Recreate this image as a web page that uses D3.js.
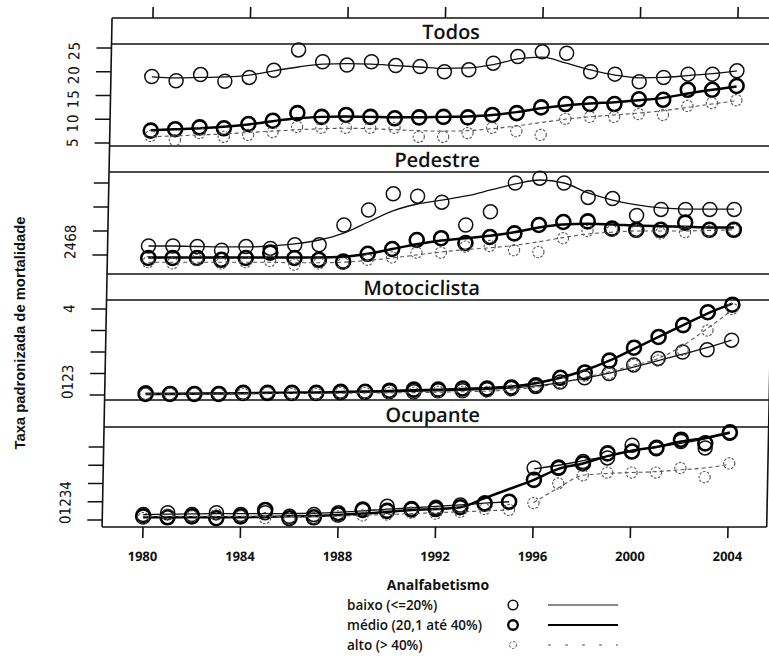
<!DOCTYPE html>
<html>
<head>
<meta charset="utf-8">
<script src="https://cdn.jsdelivr.net/npm/d3@7"></script>
<style>
  body { margin: 0; background: #fff; }
  svg { display: block; }
</style>
</head>
<body>
<svg id="chart" width="769" height="660"></svg>
<script>
// ---- data -------------------------------------------------------------
const years = [1980,1981,1982,1983,1984,1985,1986,1987,1988,1989,1990,1991,1992,
               1993,1994,1995,1996,1997,1998,1999,2000,2001,2002,2003,2004];
const xTickYears = [1980,1984,1988,1992,1996,2000,2004];

const groupNames = ["baixo (<=20%)", "médio (20,1 até 40%)", "alto (> 40%)"];
const legendTitle = "Analfabetismo";
const yTitle = "Taxa padronizada de mortalidade";

// Todos
const todosTicks = [5, 10, 15, 20, 25];
const todosTickLabels = ["5 10 15 20 25"];
const todosBaixo    = [19.0,18.1,19.4,18.0,18.8,20.3,24.6,22.1,21.4,22.1,21.3,21.1,20.0,20.4,21.8,23.2,24.2,23.9,20.0,19.5,17.9,18.8,19.5,19.5,20.2];
const todosBaixoFit = [18.9,18.7,18.8,18.9,19.3,20.2,21.0,21.6,21.7,21.6,21.3,21.0,20.7,20.8,21.5,22.7,23.1,21.8,20.4,19.3,18.7,18.8,19.2,19.6,20.2];
const todosMedio    = [7.6,7.9,8.3,8.1,9.0,9.7,11.3,10.5,10.9,10.5,10.2,10.4,10.5,10.4,10.9,11.3,12.5,13.2,13.2,13.2,14.2,14.1,16.2,16.2,17.0];
const todosMedioFit = [7.7,7.9,8.1,8.4,8.9,9.6,10.2,10.5,10.6,10.5,10.4,10.4,10.5,10.6,10.9,11.5,12.3,12.9,13.3,13.6,14.0,14.5,15.4,16.2,16.9];
const todosAlto     = [6.5,5.6,7.1,6.3,6.7,7.3,8.4,8.2,8.2,8.2,8.2,6.3,6.3,7.1,8.2,7.5,6.7,10.1,10.5,10.5,11.1,10.9,12.8,13.4,14.0];
const todosAltoFit  = [6.3,6.5,6.7,6.9,7.2,7.5,7.8,8.0,8.1,8.0,7.8,7.6,7.5,7.6,8.0,8.6,9.3,10.0,10.5,10.9,11.3,11.8,12.5,13.2,13.9];

// Pedestre
const pedTicks = [2, 4, 6, 8];
const pedTickLabels = ["2468"];
const pedBaixo    = [2.75,2.75,2.7,2.4,2.7,2.55,2.85,2.85,4.5,5.75,7.1,6.9,6.4,4.5,5.6,8.0,8.4,8.0,6.8,6.7,5.3,5.8,5.8,5.8,5.8];
const pedBaixoFit = [2.75,2.75,2.71,2.67,2.67,2.75,2.92,3.25,3.83,4.75,5.67,6.25,6.58,6.92,7.42,7.92,8.25,8.0,7.17,6.58,6.17,5.92,5.83,5.83,5.83];
const pedMedio    = [1.75,1.75,1.75,1.6,1.75,2.2,1.75,1.6,1.45,2.1,2.5,3.25,3.4,3.0,3.5,3.8,4.5,4.75,4.8,4.2,4.1,4.1,4.7,4.1,4.1];
const pedMedioFit = [1.8,1.8,1.8,1.8,1.8,1.8,1.8,1.8,1.85,2.1,2.5,2.9,3.2,3.4,3.6,3.9,4.3,4.55,4.6,4.55,4.45,4.4,4.35,4.3,4.3];
const pedAlto     = [1.4,1.3,1.6,1.3,1.4,1.5,1.2,1.3,1.3,1.6,1.8,2.2,2.2,2.7,2.75,2.4,2.25,3.4,4.0,4.0,4.0,3.8,3.9,4.0,4.1];
const pedAltoFit  = [1.4,1.4,1.4,1.4,1.4,1.4,1.35,1.35,1.4,1.55,1.75,2.0,2.25,2.45,2.6,2.8,3.1,3.45,3.75,3.9,4.0,4.0,4.0,4.05,4.1];

// Motociclista
const motoTicks = [0, 1, 2, 3, 4];
const motoTickLabels = ["0123", "4"];
const motoBaixo    = [0.1,0.05,0.05,0.05,0.1,0.1,0.1,0.1,0.1,0.15,0.15,0.15,0.2,0.2,0.25,0.3,0.4,0.6,0.8,1.0,1.4,1.7,2.0,2.1,2.55];
const motoBaixoFit = [0.08,0.08,0.08,0.08,0.09,0.1,0.1,0.11,0.12,0.13,0.15,0.17,0.19,0.22,0.26,0.32,0.42,0.58,0.78,1.02,1.3,1.6,1.9,2.2,2.55];
const motoMedio    = [0.05,0.05,0.05,0.05,0.1,0.1,0.1,0.1,0.15,0.15,0.2,0.25,0.25,0.3,0.3,0.35,0.45,0.8,1.05,1.6,2.2,2.7,3.25,3.85,4.2];
const motoMedioFit = [0.05,0.05,0.06,0.07,0.08,0.1,0.11,0.12,0.14,0.16,0.19,0.22,0.25,0.28,0.32,0.4,0.55,0.8,1.15,1.6,2.15,2.7,3.25,3.8,4.25];
const motoAlto     = [0.05,0.05,0.05,0.05,0.05,0.1,0.05,0.05,0.1,0.1,0.1,0.1,0.15,0.15,0.15,0.2,0.4,0.6,0.9,1.0,1.4,1.6,2.1,3.0,4.0];
const motoAltoFit  = [0.05,0.05,0.05,0.05,0.06,0.06,0.07,0.07,0.08,0.09,0.1,0.11,0.13,0.15,0.18,0.24,0.36,0.56,0.82,1.08,1.38,1.7,2.3,3.1,3.95];

// Ocupante (smoothers for baixo and alto restart in 1996)
const ocupTicks = [0, 1, 2, 3, 4];
const ocupTickLabels = ["01234"];
const ocupBreakYear = 1996;
const ocupBaixo    = [0.3,0.4,0.3,0.4,0.3,0.4,0.2,0.3,0.4,0.6,0.75,0.55,0.7,0.82,0.93,1.0,2.85,2.9,3.2,3.4,4.1,3.9,4.3,3.95,4.75];
const ocupBaixoFit = [0.3,0.32,0.34,0.35,0.35,0.35,0.35,0.37,0.42,0.5,0.6,0.67,0.75,0.83,0.92,1.0,2.8,3.0,3.25,3.5,3.8,4.0,4.2,4.45,4.75];
const ocupMedio    = [0.2,0.15,0.2,0.1,0.2,0.55,0.1,0.15,0.3,0.55,0.5,0.6,0.6,0.7,0.9,1.0,2.2,2.85,3.1,3.65,3.75,3.95,4.4,4.2,4.8];
const ocupMedioFit = [0.15,0.15,0.15,0.15,0.15,0.17,0.2,0.22,0.28,0.35,0.45,0.55,0.6,0.7,1.2,1.7,2.2,2.8,3.1,3.5,3.8,4.0,4.3,4.5,4.8];
const ocupAlto     = [0.1,0.3,0.2,0.3,0.2,0.1,0.05,0.1,0.2,0.25,0.3,0.4,0.35,0.45,0.6,0.55,0.93,2.0,2.45,2.6,2.6,2.6,2.85,2.35,3.1];
const ocupAltoFit  = [0.2,0.2,0.2,0.2,0.2,0.2,0.2,0.2,0.22,0.26,0.3,0.35,0.4,0.45,0.5,0.55,0.95,1.75,2.45,2.55,2.6,2.65,2.75,2.85,3.05];

// ---- layout -----------------------------------------------------------
const svg = d3.select("#chart");
const SKEW = -1.12;                       // slight slant of the whole trellis
const skewShift = yy => Math.tan(-SKEW * Math.PI / 180) * yy;
const left = 112.4, right = 777;
const ink = "#111";

const x = d3.scaleLinear().domain([1980, 2004]).range([153.3, 738.3]);

const panels = [
  { title: "Todos",        top: 18,  stripBottom: 44,  bottom: 146, ticks: todosTicks, labels: todosTickLabels, tickPx: [143, 48],
    series: [["baixo", todosBaixo, todosBaixoFit], ["medio", todosMedio, todosMedioFit], ["alto", todosAlto, todosAltoFit]] },
  { title: "Pedestre",     top: 146, stripBottom: 172, bottom: 274, ticks: pedTicks, labels: pedTickLabels, tickPx: [255, 183],
    series: [["baixo", pedBaixo, pedBaixoFit], ["medio", pedMedio, pedMedioFit], ["alto", pedAlto, pedAltoFit]] },
  { title: "Motociclista", top: 274, stripBottom: 300, bottom: 400, ticks: motoTicks, labels: motoTickLabels, tickPx: [395, 309],
    series: [["baixo", motoBaixo, motoBaixoFit], ["medio", motoMedio, motoMedioFit], ["alto", motoAlto, motoAltoFit]] },
  { title: "Ocupante",     top: 400, stripBottom: 427, bottom: 527, ticks: ocupTicks, labels: ocupTickLabels, tickPx: [520, 447],
    series: [["baixo", ocupBaixo, ocupBaixoFit, ocupBreakYear], ["medio", ocupMedio, ocupMedioFit], ["alto", ocupAlto, ocupAltoFit, ocupBreakYear]] }
];

const style = {
  baixo: { r: 7,   sw: 1.5, lw: 1.3, dash: null,  col: "#111", cdash: null },
  medio: { r: 7,   sw: 2.6, lw: 2.5, dash: null,  col: "#000", cdash: null },
  alto:  { r: 5.6, sw: 1.1, lw: 1.1, dash: "4,3", col: "#555", cdash: "2.5,1.5" }
};

const g = svg.append("g").attr("transform", `skewX(${SKEW})`);

// outer frame and strip/panel separators
const hLines = [];
panels.forEach(p => hLines.push(p.top, p.stripBottom, p.bottom));
g.selectAll("line.h").data([...new Set(hLines)]).join("line")
  .attr("x1", left).attr("x2", right).attr("y1", d => d).attr("y2", d => d)
  .attr("stroke", ink).attr("stroke-width", 1.3);
g.append("line").attr("x1", left).attr("x2", left).attr("y1", 18).attr("y2", 527)
  .attr("stroke", ink).attr("stroke-width", 1.6);
g.append("line").attr("x1", right).attr("x2", right).attr("y1", 18).attr("y2", 527)
  .attr("stroke", ink).attr("stroke-width", 1.6);

// x axis: ticks above and below, labels below
g.selectAll("line.xt").data(xTickYears).join("line")
  .attr("x1", d => x(d)).attr("x2", d => x(d)).attr("y1", 527).attr("y2", 538)
  .attr("stroke", ink).attr("stroke-width", 1.6);
g.selectAll("line.xtt").data(xTickYears).join("line")
  .attr("x1", d => x(d)).attr("x2", d => x(d)).attr("y1", 18).attr("y2", 7)
  .attr("stroke", ink).attr("stroke-width", 1.6);
g.selectAll("text.xl").data(xTickYears).join("text")
  .attr("x", d => x(d)).attr("y", 556)
  .attr("text-anchor", "middle").attr("dominant-baseline", "central")
  .attr("font-family", "'Open Sans', sans-serif").attr("font-weight", 700)
  .attr("font-size", 13).attr("fill", ink)
  .text(d => d);

const lineGen = (y) => d3.line()
  .x(d => x(d[0])).y(d => y(d[1]))
  .curve(d3.curveMonotoneX);

panels.forEach(p => {
  const y = d3.scaleLinear()
    .domain([d3.min(p.ticks), d3.max(p.ticks)])
    .range(p.tickPx);
  const stripMid = (p.top + p.stripBottom) / 2;

  // strip label
  g.append("text")
    .attr("x", 480 + skewShift(stripMid))
    .attr("y", stripMid + 1)
    .attr("text-anchor", "end").attr("dominant-baseline", "central")
    .attr("font-family", "'Open Sans', sans-serif").attr("font-weight", 600)
    .attr("font-size", 20).attr("fill", ink)
    .text(p.title);

  // y ticks
  g.selectAll(null).data(p.ticks).join("line")
    .attr("x1", left - 15).attr("x2", left)
    .attr("y1", d => y(d)).attr("y2", d => y(d))
    .attr("stroke", ink).attr("stroke-width", 1.5);

  // y tick labels, set upward from their first tick value
  p.labels.forEach(txt => {
    const start = +txt.split(/\s+/)[0].charAt(0);
    const t = g.append("text")
      .attr("transform", `translate(${left - 37},${y(start) + 4}) rotate(-90)`)
      .attr("text-anchor", "start").attr("dominant-baseline", "central")
      .attr("font-family", "'Liberation Sans Narrow', 'DejaVu Sans Condensed', sans-serif")
      .attr("font-size", 15).attr("fill", ink)
      .text(txt);
    if (/\s/.test(txt)) {
      t.attr("textLength", y(start) - y(d3.max(p.ticks)) + 10)
       .attr("lengthAdjust", "spacing");
    }
  });

  // smoothers then points
  p.series.forEach(([key, pts, fit, brk]) => {
    const s = style[key];
    const pairs = years.map((yr, i) => [yr, fit[i]]);
    const segs = brk ? [pairs.filter(d => d[0] < brk), pairs.filter(d => d[0] >= brk)] : [pairs];
    segs.forEach(seg => {
      g.append("path").datum(seg)
        .attr("d", lineGen(y))
        .attr("fill", "none").attr("stroke", s.col)
        .attr("stroke-width", s.lw)
        .attr("stroke-dasharray", s.dash);
    });
    g.selectAll(null).data(years.map((yr, i) => [yr, pts[i]])).join("circle")
      .attr("cx", d => x(d[0])).attr("cy", d => y(d[1])).attr("r", s.r)
      .attr("fill", "none").attr("stroke", s.col)
      .attr("stroke-width", s.sw)
      .attr("stroke-dasharray", s.cdash);
  });
});

// y-axis title
svg.append("text")
  .attr("transform", "translate(19,333) rotate(-90)")
  .attr("text-anchor", "middle").attr("dominant-baseline", "central")
  .attr("font-family", "'Liberation Sans Narrow', 'Liberation Sans', sans-serif")
  .attr("font-weight", 700).attr("font-size", 15)
  .attr("textLength", 233).attr("lengthAdjust", "spacingAndGlyphs")
  .attr("fill", ink)
  .text(yTitle);

// legend
const lg = svg.append("g");
lg.append("text")
  .attr("x", 438).attr("y", 584)
  .attr("text-anchor", "middle").attr("dominant-baseline", "central")
  .attr("font-family", "'Open Sans', sans-serif").attr("font-weight", 700)
  .attr("font-size", 14).attr("fill", ink)
  .text(legendTitle);
const keys = ["baixo", "medio", "alto"];
keys.forEach((k, i) => {
  const s = style[k];
  const yy = 605 + i * 20;
  lg.append("text")
    .attr("x", 347).attr("y", yy)
    .attr("dominant-baseline", "central")
    .attr("font-family", "'Open Sans', sans-serif").attr("font-weight", 600)
    .attr("font-size", 13.5).attr("fill", ink)
    .text(groupNames[i]);
  lg.append("circle")
    .attr("cx", 513).attr("cy", yy).attr("r", k === "alto" ? 3.5 : 4.8)
    .attr("fill", "none").attr("stroke", s.col)
    .attr("stroke-width", k === "medio" ? 2.4 : (k === "alto" ? 1 : 1.6))
    .attr("stroke-dasharray", s.cdash);
  lg.append("line")
    .attr("x1", 548).attr("x2", 618).attr("y1", yy).attr("y2", yy)
    .attr("stroke", s.col)
    .attr("stroke-width", k === "medio" ? 2.2 : 1.2)
    .attr("stroke-dasharray", k === "alto" ? "3,14" : null);
});
</script>
</body>
</html>
